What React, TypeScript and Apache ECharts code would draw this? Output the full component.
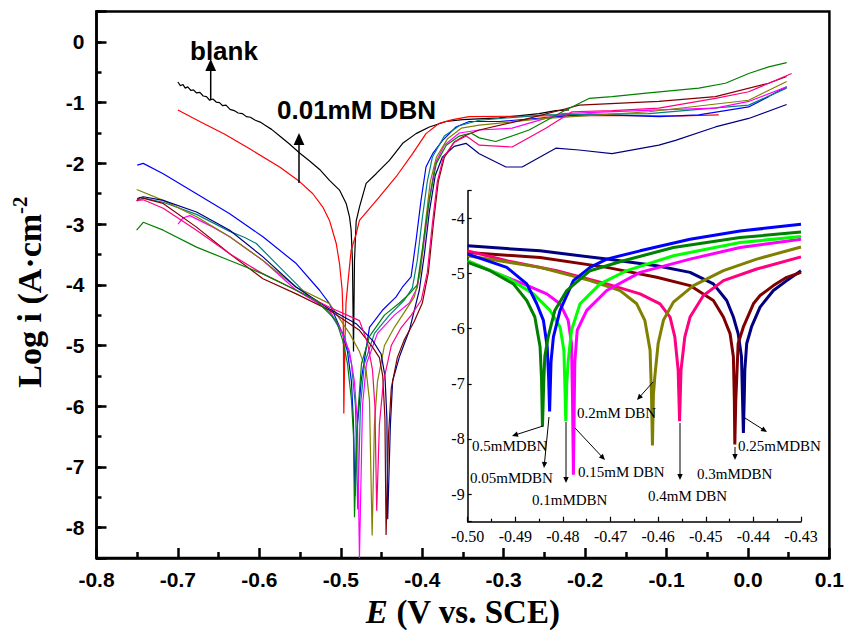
import React, { useEffect, useRef } from 'react';
import * as echarts from 'echarts';

type Pts = [number, number][];

// ---------- main plot: E (V vs SCE), log i ----------
const blankCurve: Pts = [[-0.7001,-0.66],[-0.697,-0.72],[-0.694,-0.7],[-0.691,-0.76],[-0.688,-0.74],[-0.684,-0.8],[-0.681,-0.79],[-0.677,-0.84],[-0.673,-0.83],[-0.669,-0.89],[-0.665,-0.9],[-0.661,-0.96],[-0.657,-0.94],[-0.653,-0.99],[-0.649,-1.0],[-0.645,-1.05],[-0.641,-1.04],[-0.636,-1.11],[-0.631,-1.13],[-0.626,-1.17],[-0.621,-1.18],[-0.616,-1.23],[-0.611,-1.24],[-0.605,-1.29],[-0.599,-1.32],[-0.592,-1.38],[-0.585,-1.44],[-0.575,-1.55],[-0.563,-1.68],[-0.5506,-1.83],[-0.5383,-1.96],[-0.526,-2.1],[-0.5139,-2.28],[-0.5016,-2.44],[-0.4934,-2.66],[-0.4893,-2.88],[-0.4873,-3.1],[-0.4857,-3.6],[-0.4844,-5.1],[-0.4832,-3.6],[-0.4811,-2.95],[-0.4771,-2.72],[-0.4689,-2.33],[-0.4566,-2.17],[-0.4403,-1.95],[-0.424,-1.67],[-0.4076,-1.51],[-0.3913,-1.4],[-0.3708,-1.31],[-0.3505,-1.28],[-0.3055,-1.25],[-0.2565,-1.18],[-0.236,-1.13],[-0.2197,-1.12]];
const dbn001: Pts = [[-0.7001,-1.12],[-0.6732,-1.31],[-0.6425,-1.52],[-0.6119,-1.76],[-0.5751,-2.06],[-0.5506,-2.3],[-0.5343,-2.5],[-0.5221,-2.72],[-0.5139,-2.94],[-0.5056,-3.32],[-0.5016,-3.65],[-0.4983,-4.09],[-0.4969,-4.7],[-0.4963,-6.12],[-0.4949,-4.9],[-0.4936,-4.3],[-0.4914,-3.98],[-0.4873,-3.43],[-0.4811,-3.16],[-0.4771,-2.94],[-0.4526,-2.55],[-0.4321,-2.22],[-0.4118,-1.84],[-0.3954,-1.51],[-0.3791,-1.34],[-0.3627,-1.28],[-0.3423,-1.23],[-0.2605,-1.22],[-0.183,-1.21],[-0.0813,-1.22],[-0.0359,-1.2]];
const dbn005: Pts = [[-0.75,-2.03],[-0.7426,-2.0],[-0.7181,-2.17],[-0.6772,-2.5],[-0.6364,-2.83],[-0.5956,-3.21],[-0.5547,-3.65],[-0.5261,-4.09],[-0.5139,-4.31],[-0.4979,-4.8],[-0.4918,-5.1],[-0.4869,-5.6],[-0.4844,-6.3],[-0.4826,-7.48],[-0.4807,-6.5],[-0.475,-5.58],[-0.4648,-4.7],[-0.4489,-4.42],[-0.4321,-4.2],[-0.4244,-4.04],[-0.4137,-3.87],[-0.4076,-3.27],[-0.4015,-2.61],[-0.3954,-2.06],[-0.3872,-1.84],[-0.375,-1.62],[-0.3586,-1.4],[-0.3423,-1.31],[-0.3055,-1.31],[-0.1952,-1.19],[-0.1094,-1.23],[-0.0604,-1.2],[0.0009,-1.07],[0.0254,-0.9],[0.0475,-0.74]];
const dbn01: Pts = [[-0.75,-2.62],[-0.7426,-2.57],[-0.7181,-2.64],[-0.6772,-2.84],[-0.6364,-3.12],[-0.618,-3.22],[-0.6037,-3.32],[-0.5751,-3.71],[-0.5424,-4.15],[-0.5139,-4.45],[-0.4955,-4.85],[-0.4869,-5.3],[-0.482,-6.0],[-0.4792,-7.7],[-0.4759,-6.0],[-0.471,-5.3],[-0.4587,-4.8],[-0.4403,-4.5],[-0.4219,-4.25],[-0.4121,-4.05],[-0.4061,-3.6],[-0.3999,-2.9],[-0.3938,-2.3],[-0.3876,-1.9],[-0.3729,-1.55],[-0.3545,-1.38],[-0.33,-1.29],[-0.2483,-1.2],[-0.1217,-1.18],[0.0009,-1.04],[0.0475,-0.76]];
const dbn015: Pts = [[-0.6998,-3.0],[-0.694,-2.9],[-0.6854,-2.86],[-0.6569,-3.05],[-0.6364,-3.21],[-0.5956,-3.6],[-0.5547,-4.09],[-0.5139,-4.42],[-0.5016,-4.7],[-0.4893,-5.1],[-0.4832,-5.6],[-0.4795,-6.3],[-0.4771,-8.5],[-0.4734,-6.0],[-0.4685,-5.3],[-0.455,-4.8],[-0.4342,-4.5],[-0.4158,-4.3],[-0.4061,-4.05],[-0.3987,-3.4],[-0.3913,-2.6],[-0.384,-2.0],[-0.3729,-1.7],[-0.3545,-1.5],[-0.33,-1.45],[-0.2896,-1.42],[-0.2283,-1.18],[-0.1094,-1.12],[-0.04,-1.09],[0.0009,-0.98],[0.0475,-0.74]];
const dbn02: Pts = [[-0.7507,-2.43],[-0.7181,-2.61],[-0.6772,-2.88],[-0.6364,-3.21],[-0.5956,-3.6],[-0.5547,-4.04],[-0.5139,-4.31],[-0.4893,-4.8],[-0.4771,-5.1],[-0.4689,-5.41],[-0.4648,-5.9],[-0.4615,-8.13],[-0.4587,-6.3],[-0.455,-5.6],[-0.4464,-5.0],[-0.4342,-4.7],[-0.4219,-4.45],[-0.4097,-4.2],[-0.4024,-3.8],[-0.3962,-3.0],[-0.3901,-2.3],[-0.3827,-1.9],[-0.3692,-1.6],[-0.3521,-1.42],[-0.33,-1.37],[-0.2483,-1.26],[-0.1217,-1.15],[0.0009,-0.96],[0.0475,-0.65]];
const dbn025: Pts = [[-0.75,-2.58],[-0.7426,-2.55],[-0.7181,-2.61],[-0.6772,-2.8],[-0.6364,-3.1],[-0.5956,-3.54],[-0.5547,-4.04],[-0.5139,-4.4],[-0.4811,-4.64],[-0.4608,-4.92],[-0.4505,-5.14],[-0.4458,-5.5],[-0.4434,-6.2],[-0.4424,-7.86],[-0.4391,-6.3],[-0.4363,-5.58],[-0.4281,-5.19],[-0.4158,-4.75],[-0.4036,-4.09],[-0.3974,-3.5],[-0.3913,-2.8],[-0.384,-2.2],[-0.3754,-1.9],[-0.3607,-1.72],[-0.3463,-1.67],[-0.33,-1.84],[-0.2973,-2.06],[-0.2773,-2.06],[-0.236,-1.75],[-0.2075,-1.78],[-0.167,-1.84],[-0.1094,-1.7],[-0.089,-1.62],[-0.04,-1.4],[0.0009,-1.26],[0.0475,-1.03]];
const dbn03: Pts = [[-0.7507,-2.62],[-0.7467,-2.56],[-0.7181,-2.66],[-0.6772,-3.05],[-0.6364,-3.49],[-0.5956,-3.9],[-0.5547,-4.15],[-0.5139,-4.42],[-0.4771,-4.75],[-0.4608,-5.03],[-0.4526,-5.2],[-0.4485,-5.5],[-0.4458,-6.2],[-0.4444,-8.12],[-0.4415,-6.5],[-0.438,-5.7],[-0.4306,-5.2],[-0.4219,-4.9],[-0.4097,-4.6],[-0.3999,-4.3],[-0.3925,-3.8],[-0.3864,-3.0],[-0.3803,-2.3],[-0.3729,-1.9],[-0.3607,-1.65],[-0.3484,-1.55],[-0.33,-1.45],[-0.281,-1.3],[-0.2238,-1.1],[-0.2075,-1.04],[-0.1425,-1.0],[-0.1094,-0.98],[-0.04,-0.9],[0.0254,-0.68],[0.0475,-0.57]];
const dbn04: Pts = [[-0.7507,-2.61],[-0.7426,-2.6],[-0.7181,-2.74],[-0.6772,-3.1],[-0.6364,-3.49],[-0.5956,-3.82],[-0.5547,-4.09],[-0.5139,-4.37],[-0.4771,-4.59],[-0.4673,-4.95],[-0.4611,-5.4],[-0.4581,-6.0],[-0.4559,-7.72],[-0.4526,-6.3],[-0.4477,-5.6],[-0.438,-5.0],[-0.4256,-4.7],[-0.4134,-4.5],[-0.4011,-4.25],[-0.3938,-3.8],[-0.3876,-3.0],[-0.3815,-2.3],[-0.3741,-1.9],[-0.3607,-1.65],[-0.346,-1.55],[-0.33,-1.7],[-0.2896,-1.73],[-0.2483,-1.42],[-0.216,-1.15],[-0.167,-1.13],[-0.1094,-1.09],[-0.04,-0.93],[0.0009,-0.82],[0.0536,-0.52]];
const dbn05: Pts = [[-0.7507,-3.1],[-0.7426,-2.97],[-0.7181,-3.1],[-0.6772,-3.38],[-0.6364,-3.6],[-0.5956,-3.82],[-0.5547,-4.09],[-0.5301,-4.26],[-0.5056,-4.59],[-0.4976,-4.92],[-0.4918,-5.3],[-0.4869,-5.9],[-0.4844,-6.5],[-0.4832,-7.83],[-0.4795,-6.2],[-0.4746,-5.3],[-0.4648,-4.85],[-0.4464,-4.5],[-0.4281,-4.3],[-0.4158,-4.15],[-0.4061,-4.0],[-0.3987,-3.3],[-0.3913,-2.6],[-0.3827,-2.0],[-0.3705,-1.7],[-0.3545,-1.55],[-0.3402,-1.5],[-0.33,-1.58],[-0.3098,-1.64],[-0.2688,-1.45],[-0.2279,-1.15],[-0.1952,-0.93],[-0.167,-0.9],[-0.1217,-0.84],[-0.0604,-0.76],[-0.0277,-0.68],[0.0009,-0.52],[0.0254,-0.41],[0.0475,-0.34]];

// ---------- inset: zoom around Ecorr ----------
const in005: Pts = [[-0.5,-4.65],[-0.4918,-4.89],[-0.4876,-5.19],[-0.4855,-5.55],[-0.4841,-5.85],[-0.4833,-6.33],[-0.483,-6.9],[-0.4828,-7.5],[-0.4826,-6.9],[-0.4825,-6.6],[-0.482,-6.15],[-0.4806,-5.67],[-0.4778,-5.13],[-0.4743,-4.89],[-0.4708,-4.74],[-0.4638,-4.59],[-0.4533,-4.38],[-0.4428,-4.23],[-0.43,-4.11]];
const in05: Pts = [[-0.5,-4.8],[-0.4953,-4.95],[-0.4904,-5.19],[-0.4876,-5.49],[-0.4859,-5.79],[-0.4848,-6.33],[-0.4845,-6.9],[-0.4843,-7.78],[-0.484,-6.9],[-0.4838,-6.5],[-0.4831,-6.15],[-0.4817,-5.67],[-0.4792,-5.31],[-0.4743,-4.95],[-0.4673,-4.77],[-0.4568,-4.53],[-0.4428,-4.35],[-0.43,-4.25]];
const in01: Pts = [[-0.5,-4.77],[-0.4918,-5.07],[-0.4862,-5.37],[-0.4827,-5.67],[-0.4806,-5.97],[-0.4798,-6.39],[-0.4796,-7.0],[-0.4794,-7.68],[-0.4792,-7.0],[-0.4789,-6.6],[-0.4782,-6.03],[-0.4764,-5.55],[-0.4722,-5.19],[-0.4666,-4.95],[-0.4568,-4.68],[-0.4428,-4.44],[-0.43,-4.33]];
const in015: Pts = [[-0.5,-4.77],[-0.4953,-4.95],[-0.4883,-5.19],[-0.4834,-5.37],[-0.4806,-5.55],[-0.4789,-5.85],[-0.4782,-6.27],[-0.478,-7.2],[-0.4778,-8.65],[-0.4776,-7.2],[-0.4775,-6.6],[-0.477,-6.03],[-0.475,-5.67],[-0.4708,-5.31],[-0.4638,-4.98],[-0.4533,-4.74],[-0.4428,-4.53],[-0.43,-4.38]];
const in02: Pts = [[-0.5,-4.68],[-0.4848,-4.89],[-0.4743,-5.13],[-0.468,-5.31],[-0.4645,-5.55],[-0.4628,-5.85],[-0.4617,-6.39],[-0.4614,-7.2],[-0.4612,-8.12],[-0.461,-7.2],[-0.4607,-6.87],[-0.46,-6.27],[-0.4589,-5.85],[-0.4568,-5.52],[-0.4526,-5.22],[-0.4463,-4.95],[-0.4393,-4.74],[-0.43,-4.52]];
const in04: Pts = [[-0.5,-4.59],[-0.4918,-4.77],[-0.4813,-4.95],[-0.4708,-5.19],[-0.4638,-5.37],[-0.4596,-5.55],[-0.4575,-5.79],[-0.4565,-6.15],[-0.4558,-6.75],[-0.4555,-7.68],[-0.4552,-6.75],[-0.4544,-6.15],[-0.4533,-5.79],[-0.4505,-5.4],[-0.4463,-5.13],[-0.4393,-4.92],[-0.43,-4.7]];
const in03: Pts = [[-0.5,-4.62],[-0.4848,-4.71],[-0.4708,-4.89],[-0.4603,-5.07],[-0.4533,-5.22],[-0.4484,-5.49],[-0.4463,-5.79],[-0.4449,-6.09],[-0.4442,-6.51],[-0.444,-7.3],[-0.4439,-8.1],[-0.4437,-7.3],[-0.4435,-6.9],[-0.4432,-6.27],[-0.4421,-5.97],[-0.44,-5.55],[-0.4386,-5.4],[-0.4358,-5.22],[-0.433,-5.07],[-0.43,-4.98]];
const in025: Pts = [[-0.5,-4.5],[-0.4848,-4.59],[-0.4708,-4.74],[-0.4603,-4.86],[-0.4533,-4.98],[-0.4484,-5.19],[-0.4456,-5.49],[-0.4442,-5.79],[-0.4432,-6.09],[-0.4425,-6.51],[-0.4423,-7.2],[-0.4421,-7.89],[-0.4419,-7.2],[-0.4418,-6.75],[-0.4414,-6.27],[-0.4404,-5.97],[-0.4386,-5.61],[-0.4358,-5.31],[-0.433,-5.13],[-0.43,-4.95]];

const mainCurves = [
  { name: 'blank', color: '#000000', data: blankCurve },
  { name: '0.01mM DBN', color: '#ff0000', data: dbn001 },
  { name: '0.05mM DBN', color: '#0000ff', data: dbn005 },
  { name: '0.1mM DBN', color: '#008080', data: dbn01 },
  { name: '0.15mM DBN', color: '#ff00ff', data: dbn015 },
  { name: '0.2mM DBN', color: '#808000', data: dbn02 },
  { name: '0.25mM DBN', color: '#000080', data: dbn025 },
  { name: '0.3mM DBN', color: '#800000', data: dbn03 },
  { name: '0.4mM DBN', color: '#ff0080', data: dbn04 },
  { name: '0.5mM DBN', color: '#008000', data: dbn05 },
];
const insetCurves = [
  { name: 'i0.25', color: '#000080', data: in025 },
  { name: 'i0.3', color: '#800000', data: in03 },
  { name: 'i0.4', color: '#ff0080', data: in04 },
  { name: 'i0.2', color: '#808000', data: in02 },
  { name: 'i0.15', color: '#ff00ff', data: in015 },
  { name: 'i0.1', color: '#00ff00', data: in01 },
  { name: 'i0.05', color: '#0000ff', data: in005 },
  { name: 'i0.5', color: '#008000', data: in05 },
];

// inset annotation labels: [text, left x, middle y]
const insetLabels: [string, number, number][] = [
  ['0.2mM DBN', 577, 413],
  ['0.5mMDBN', 472, 446],
  ['0.05mMDBN', 470, 478],
  ['0.1mMDBN', 532, 500],
  ['0.15mM DBN', 578, 472],
  ['0.4mM DBN', 648, 496],
  ['0.3mMDBN', 697, 474],
  ['0.25mMDBN', 738, 446],
];
const insetArrows: [number, number, number, number][] = [
  [653, 382, 637, 400],
  [543, 426, 512, 436],
  [549, 417, 544, 468],
  [566, 422, 566, 483],
  [575, 428, 605, 460],
  [680, 423, 680, 480],
  [735, 447, 735, 460],
  [745, 418, 767, 432],
];

const SANS = 'Liberation Sans, Arial, sans-serif';
const SERIF = 'Liberation Serif, Times New Roman, serif';

function arrow(x1: number, y1: number, x2: number, y2: number, size: number, w: number) {
  const dx = x2 - x1, dy = y2 - y1;
  const L = Math.sqrt(dx * dx + dy * dy);
  const ux = dx / L, uy = dy / L;
  const px = -uy, py = ux;
  const bx = x2 - ux * size, by = y2 - uy * size;
  return [
    { type: 'line', silent: true, z: 100, shape: { x1, y1, x2: bx + ux * 1, y2: by + uy * 1 }, style: { stroke: '#000', lineWidth: w } },
    {
      type: 'polygon', silent: true, z: 100,
      shape: { points: [[x2, y2], [bx + px * size * 0.45, by + py * size * 0.45], [bx - px * size * 0.45, by - py * size * 0.45]] },
      style: { fill: '#000' },
    },
  ];
}

export default function App() {
  const ref = useRef<HTMLDivElement>(null);
  useEffect(() => {
    if (!ref.current) return;
    const chart = echarts.init(ref.current, null, { renderer: 'svg' });
    const tickLine = { color: '#000', width: 2.5 };
    const mainLabel = { fontSize: 21, fontWeight: 'bold', fontFamily: SANS, color: '#000' };
    const insetLabel = { fontSize: 16, fontFamily: SERIF, color: '#000' };
    const intFmt = (v: number) => (Math.abs(v - Math.round(v)) < 1e-6 ? String(Math.round(v) === 0 ? 0 : Math.round(v)) : '');

    const graphics: any[] = [
      { type: 'text', x: 190, y: 51, z: 100, style: { text: 'blank', fontSize: 26, fontWeight: 'bold', fontFamily: SANS, fill: '#000', textAlign: 'left', textVerticalAlign: 'middle' } },
      { type: 'text', x: 277, y: 110, z: 100, style: { text: '0.01mM DBN', fontSize: 26, fontWeight: 'bold', fontFamily: SANS, fill: '#000', textAlign: 'left', textVerticalAlign: 'middle' } },
      ...arrow(210.7, 100, 210.7, 59, 12, 1.5),
      ...arrow(299, 183, 299, 133, 12, 1.5),
      {
        type: 'text', x: 463, y: 612, z: 100,
        style: {
          text: '{i|E}{n| (V vs. SCE)}', textAlign: 'center', textVerticalAlign: 'middle',
          rich: {
            i: { fontSize: 33, fontWeight: 'bold', fontStyle: 'italic', fontFamily: SERIF, fill: '#000' },
            n: { fontSize: 33, fontWeight: 'bold', fontFamily: SERIF, fill: '#000' },
          },
        },
      },
      {
        type: 'text', x: 29, y: 292, rotation: Math.PI / 2, z: 100,
        style: {
          text: '{n|Log i (A·cm}{s|-2}', textAlign: 'center', textVerticalAlign: 'middle',
          rich: {
            n: { fontSize: 34, fontWeight: 'bold', fontFamily: SERIF, fill: '#000', lineHeight: 40 },
            s: { fontSize: 21, fontWeight: 'bold', fontFamily: SERIF, fill: '#000', verticalAlign: 'top', lineHeight: 40 },
          },
        },
      },
    ];
    insetLabels.forEach(([t, x, y]) => {
      graphics.push({ type: 'text', x, y, z: 100, style: { text: t, fontSize: 15, fontFamily: SERIF, fill: '#000', textAlign: 'left', textVerticalAlign: 'middle' } });
    });
    insetArrows.forEach(([a, b, c, d]) => graphics.push(...arrow(a, b, c, d, 6, 1)));

    chart.setOption({
      animation: false,
      backgroundColor: '#ffffff',
      grid: [
        { left: 96.5, right: 17.5, top: 11.6, bottom: 73, show: true, borderColor: '#000', borderWidth: 2.5, backgroundColor: 'transparent' },
        { left: 467.7, right: 46, top: 190.7, bottom: 109.3, show: false },
      ],
      xAxis: [
        {
          gridIndex: 0, type: 'value', min: -0.8, max: 0.1, interval: 0.1,
          axisLine: { show: true, onZero: false, lineStyle: tickLine },
          axisTick: { show: true, inside: true, length: 10, lineStyle: tickLine },
          minorTick: { show: true, splitNumber: 2, length: 6, lineStyle: tickLine },
          splitLine: { show: false }, minorSplitLine: { show: false },
          axisLabel: {
            ...mainLabel, margin: 11,
            formatter: (v: number) => { const r = Math.round(v * 10) / 10; return (r === 0 ? 0 : r).toFixed(1); },
          },
        },
        {
          gridIndex: 1, type: 'value', min: -0.5, max: -0.43, interval: 0.01,
          axisLine: { show: true, onZero: false, lineStyle: { color: '#000', width: 1.5 } },
          axisTick: { show: true, inside: true, length: 5, lineStyle: { color: '#000', width: 1.2 } },
          minorTick: { show: true, splitNumber: 2, length: 3, lineStyle: { color: '#000', width: 1.2 } },
          splitLine: { show: false }, minorSplitLine: { show: false },
          axisLabel: { ...insetLabel, margin: 7, formatter: (v: number) => (Math.round(v * 100) / 100).toFixed(2) },
        },
      ],
      yAxis: [
        {
          gridIndex: 0, type: 'value', min: -8.5, max: 0.5, splitNumber: 9, position: 'left',
          axisLine: { show: true, onZero: false, lineStyle: tickLine },
          axisTick: { show: true, inside: true, length: 10, lineStyle: tickLine },
          splitLine: { show: false },
          axisLabel: { ...mainLabel, margin: 12, formatter: intFmt },
        },
        {
          gridIndex: 0, type: 'value', min: -8.5, max: 0.5, interval: 0.5, position: 'left',
          axisLine: { show: false, onZero: false },
          axisTick: { show: true, inside: true, length: 5, lineStyle: tickLine },
          splitLine: { show: false },
          axisLabel: { show: false },
        },
        {
          gridIndex: 1, type: 'value', min: -9.5, max: -3.5, splitNumber: 6, position: 'left',
          axisLine: { show: true, onZero: false, lineStyle: { color: '#000', width: 1.5 } },
          axisTick: { show: true, inside: true, length: 4, lineStyle: { color: '#000', width: 1.2 } },
          splitLine: { show: false },
          axisLabel: { ...insetLabel, margin: 3, formatter: intFmt },
        },
      ],
      series: [
        ...mainCurves.map((c) => ({
          type: 'line', name: c.name, xAxisIndex: 0, yAxisIndex: 0, data: c.data,
          showSymbol: false, symbol: 'none', silent: true,
          lineStyle: { color: c.color, width: 1.2 }, itemStyle: { color: c.color },
        })),
        ...insetCurves.map((c) => ({
          type: 'line', name: c.name, xAxisIndex: 1, yAxisIndex: 2, data: c.data,
          showSymbol: false, symbol: 'none', silent: true,
          lineStyle: { color: c.color, width: 3 }, itemStyle: { color: c.color },
        })),
      ],
      graphic: graphics,
    });
    return () => chart.dispose();
  }, []);
  return <div ref={ref} style={{ position: 'fixed', left: 0, top: 0, width: 847, height: 631, background: '#fff' }} />;
}
